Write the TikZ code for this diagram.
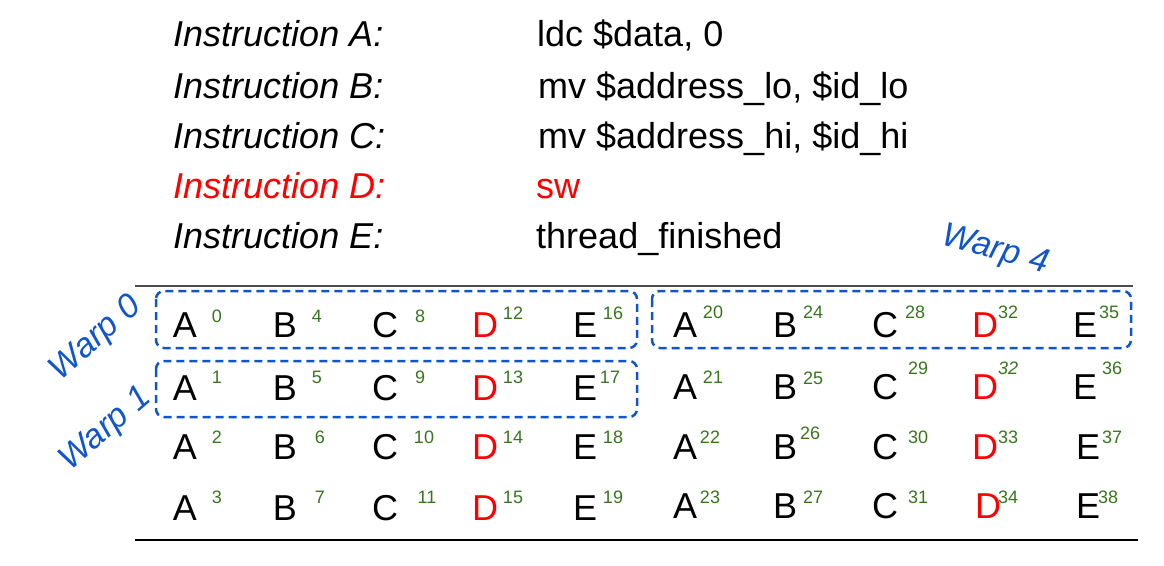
\documentclass[tikz,border=0pt]{standalone}
\usepackage{fontspec}
\setmainfont{Liberation Sans}
\definecolor{wblue}{HTML}{1155CC}
\definecolor{ngreen}{HTML}{38761D}
\definecolor{dred}{HTML}{FF0000}
\begin{document}
\begin{tikzpicture}[x=1pt,y=-1pt,
  instr/.style={anchor=base west,inner sep=0pt,font=\fontsize{36}{40}\selectfont\itshape},
  code/.style={anchor=base west,inner sep=0pt,font=\fontsize{36}{40}\selectfont},
  letter/.style={anchor=base,inner sep=0pt,font=\fontsize{36}{40}\selectfont},
  num/.style={anchor=center,inner sep=0pt,text=ngreen,font=\fontsize{18}{20}\selectfont},
  warpbox/.style={draw=wblue,line width=2.5pt,dash pattern=on 8pt off 5pt,rounded corners=8pt},
  warplabel/.style={inner sep=0pt,text=wblue,font=\fontsize{34}{38}\selectfont\itshape}]
\useasboundingbox (0,0) rectangle (1164,565);

% instructions
\node[instr] (iA) at (173,46) {Instruction A:};
\node[instr] (iB) at (173,98) {Instruction B:};
\node[instr] (iC) at (173,148) {Instruction C:};
\node[instr,text=dred] (iD) at (173,198) {Instruction D:};
\node[instr] (iE) at (173,248) {Instruction E:};
\node[code] (cA) at (537,46) {ldc \$data, 0};
\node[code] (cB) at (538,98) {mv \$address\_lo, \$id\_lo};
\node[code] (cC) at (538,148) {mv \$address\_hi, \$id\_hi};
\node[code,text=dred] (cD) at (536,198) {sw};
\node[code] (cE) at (536,248) {thread\_finished};

% rules
\draw[line width=2.5pt,color=black!70] (135,286) -- (1133,286);
\draw[line width=2pt] (135,540) -- (1138,540);

% warp boxes
\draw[warpbox] (156,291) rectangle (637,348);
\draw[warpbox] (156,361) rectangle (637,417);
\draw[warpbox] (652,291) rectangle (1131,348);

% warp labels
\node[warplabel,rotate=41] (w0) at (96,339) {Warp 0};
\node[warplabel,rotate=41] (w1) at (106,430) {Warp 1};
\node[warplabel,rotate=-15] (w4) at (995,251) {Warp 4};

% letters, left block
\foreach \y [count=\r] in {337,400,459,520}{
  \node[letter] (LA\r) at (185,\y) {A};
  \node[letter] (LB\r) at (285,\y) {B};
  \node[letter] (LC\r) at (385,\y) {C};
  \node[letter,text=dred] (LD\r) at (485,\y) {D};
  \node[letter] (LE\r) at (585,\y) {E};
}
% letters, right block
\foreach \y/\ex/\dx [count=\r] in {337/1085/985,399/1085/985,459/1088/985,518/1088/988}{
  \node[letter] (RA\r) at (685,\y) {A};
  \node[letter] (RB\r) at (785,\y) {B};
  \node[letter] (RC\r) at (885,\y) {C};
  \node[letter,text=dred] (RD\r) at (\dx,\y) {D};
  \node[letter] (RE\r) at (\ex,\y) {E};
}

% numbers, left block
\node[num] (n0) at (217,316) {0};
\node[num] (n4) at (317,316) {4};
\node[num] (n8) at (420,316) {8};
\node[num] (n12) at (513,313) {12};
\node[num] (n16) at (613,313) {16};
\node[num] (n1) at (217,377) {1};
\node[num] (n5) at (317,377) {5};
\node[num] (n9) at (420,377) {9};
\node[num] (n13) at (513,377) {13};
\node[num] (n17) at (610,377) {17};
\node[num] (n2) at (217,437) {2};
\node[num] (n6) at (320,437) {6};
\node[num] (n10) at (424,437) {10};
\node[num] (n14) at (513,437) {14};
\node[num] (n18) at (613,437) {18};
\node[num] (n3) at (217,497) {3};
\node[num] (n7) at (320,497) {7};
\node[num] (n11) at (427,497) {11};
\node[num] (n15) at (513,497) {15};
\node[num] (n19) at (613,497) {19};

% numbers, right block
\node[num] (n20) at (713,312) {20};
\node[num] (n24) at (813,312) {24};
\node[num] (n28) at (915,312) {28};
\node[num] (n32a) at (1008,312) {32};
\node[num] (n35) at (1109,312) {35};
\node[num] (n21) at (713,377) {21};
\node[num] (n25) at (813,378) {25};
\node[num] (n29) at (918,368) {29};
\node[num,font=\fontsize{18}{20}\selectfont\itshape] (n32b) at (1008,368) {32};
\node[num] (n36) at (1112,368) {36};
\node[num] (n22) at (710,437) {22};
\node[num] (n26) at (810,433) {26};
\node[num] (n30) at (918,437) {30};
\node[num] (n33) at (1008,437) {33};
\node[num] (n37) at (1112,437) {37};
\node[num] (n23) at (710,497) {23};
\node[num] (n27) at (813,497) {27};
\node[num] (n31) at (918,497) {31};
\node[num] (n34) at (1008,497) {34};
\node[num] (n38) at (1108,497) {38};
\end{tikzpicture}
\end{document}
